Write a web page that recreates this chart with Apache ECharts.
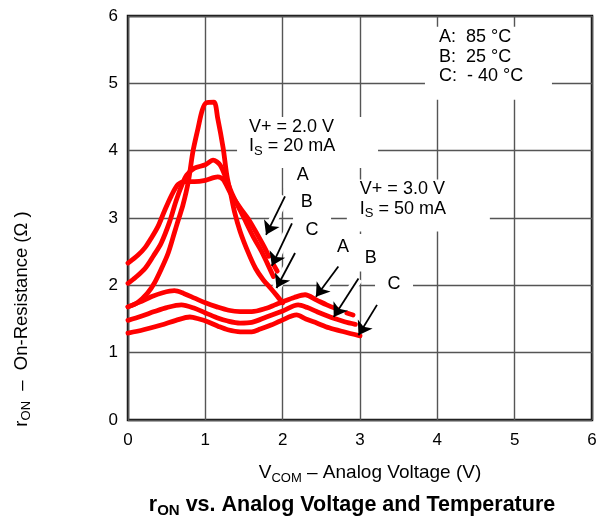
<!DOCTYPE html>
<html><head><meta charset="utf-8">
<script src="https://cdn.jsdelivr.net/npm/echarts@6/dist/echarts.min.js"></script>
<style>html,body{margin:0;padding:0;background:#fff}#c{width:605px;height:525px}</style>
</head><body><div id="c"></div>
<script>
// ---- data ----
const xTicks = [0, 1, 2, 3, 4, 5, 6];
const yTicks = [0, 1, 2, 3, 4, 5, 6];

// V+ = 2.0 V, IS = 20 mA
const v2A = [[0,2.33],[0.13,2.45],[0.22,2.56],[0.30,2.70],[0.39,2.88],[0.47,3.10],[0.56,3.33],[0.65,3.50],[0.75,3.54],[0.86,3.54],[1.0,3.56],[1.16,3.61],[1.23,3.57],[1.32,3.38],[1.45,3.15],[1.57,2.96],[1.68,2.74],[1.78,2.53],[1.82,2.43]];
const v2ADash = [[1.885,2.30],[1.93,2.21]];
const v2B = [[0,2.03],[0.10,2.12],[0.22,2.25],[0.33,2.44],[0.43,2.63],[0.54,2.95],[0.62,3.25],[0.70,3.50],[0.76,3.64],[0.86,3.74],[1.0,3.79],[1.10,3.86],[1.19,3.79],[1.27,3.58],[1.35,3.35],[1.50,3.0],[1.62,2.72],[1.72,2.52],[1.80,2.33],[1.88,2.13]];
const v2C = [[0,1.68],[0.13,1.75],[0.25,1.88],[0.34,2.03],[0.43,2.24],[0.52,2.48],[0.60,2.78],[0.65,2.97],[0.71,3.19],[0.78,3.54],[0.84,3.99],[0.905,4.33],[0.96,4.60],[1.01,4.71],[1.11,4.72],[1.16,4.48],[1.23,4.04],[1.28,3.62],[1.33,3.35],[1.38,3.08],[1.45,2.80],[1.55,2.50],[1.65,2.25],[1.75,2.08],[1.85,1.95],[1.93,1.84],[2.0,1.74]];

// V+ = 3.0 V, IS = 50 mA
const v3A = [[0,1.68],[0.15,1.75],[0.30,1.83],[0.45,1.89],[0.60,1.92],[0.72,1.88],[0.86,1.81],[1.0,1.74],[1.15,1.68],[1.30,1.63],[1.45,1.61],[1.60,1.61],[1.79,1.66],[1.90,1.71],[2.01,1.76],[2.15,1.82],[2.29,1.86],[2.44,1.78],[2.57,1.71],[2.70,1.65]];
const v3ADash = [[2.83,1.59],[2.91,1.56]];
const v3B = [[0,1.48],[0.17,1.54],[0.34,1.61],[0.50,1.67],[0.69,1.71],[0.86,1.66],[1.0,1.59],[1.15,1.52],[1.29,1.47],[1.45,1.44],[1.60,1.45],[1.79,1.53],[2.0,1.62],[2.20,1.71],[2.32,1.67],[2.44,1.61],[2.66,1.51],[2.80,1.46],[2.94,1.42]];
const v3C = [[0,1.29],[0.20,1.34],[0.43,1.41],[0.62,1.48],[0.80,1.53],[0.92,1.50],[1.03,1.46],[1.17,1.39],[1.29,1.34],[1.45,1.31],[1.60,1.31],[1.71,1.35],[1.85,1.41],[1.97,1.47],[2.18,1.56],[2.30,1.50],[2.44,1.44],[2.60,1.37],[2.79,1.31],[3.0,1.25]];

// annotations (data coordinates)
const arrowLines = [
  [[2.03,3.32],[1.785,2.75]], [[2.12,2.92],[1.86,2.29]], [[2.16,2.48],[1.92,1.96]],
  [[2.72,2.28],[2.43,1.83]], [[2.98,2.10],[2.66,1.53]], [[3.22,1.71],[2.98,1.26]]
];
const letterPos = [[2.26,3.64],[2.31,3.24],[2.38,2.82],[2.78,2.57],[3.14,2.40],[3.44,2.02]];
const letterText = ['A','B','C','A','B','C'];
const boxPos = [[1.41,4.50],[2.83,3.57],[3.84,5.84]];
const boxText = [
  '{a|V+ = 2.0 V}\n{a|I}{s|S}{a| = 20 mA}',
  '{a|V+ = 3.0 V}\n{a|I}{s|S}{a| = 50 mA}',
  '{a|A:  85 °C}\n{a|B:  25 °C}\n{a|C:  - 40 °C}'
];

// ---- layout / style ----
const FONT = 'Liberation Sans, Arial, Helvetica, sans-serif';
const RED = '#ff0000';
const boxSize = [[141, 51], [143, 52], [127, 73]];
const boxTextOffset = [[12, 1], [13, 0], [14, 1]];
const boxLineHeight = [19, 19.5, 19.5];

const chart = echarts.init(document.getElementById('c'), null, {renderer: 'canvas'});

function curve(name, data) {
  return {
    name, type: 'line', data, showSymbol: false, smooth: 0.3, z: 3,
    lineStyle: {color: RED, width: 4.8, cap: 'round', join: 'round'},
    silent: true, animation: false
  };
}
function rich(size, lh, bold) {
  const w = bold ? 'bold' : 'normal';
  return {
    a: {fontSize: size, fontWeight: w, fontFamily: FONT, color: '#000', lineHeight: lh},
    s: {fontSize: Math.round(size * 0.7), fontWeight: w, fontFamily: FONT, color: '#000', lineHeight: lh, padding: [Math.round(size * 0.5), 0, 0, 0]}
  };
}

chart.setOption({
  animation: false,
  backgroundColor: '#fff',
  grid: {left: 128, right: 13, top: 16, bottom: 105, show: true, borderColor: '#111', borderWidth: 2.5, backgroundColor: 'transparent'},
  xAxis: {
    type: 'value', min: 0, max: 6, interval: 1,
    axisLine: {show: false}, axisTick: {show: false},
    axisLabel: {color: '#000', fontSize: 17, fontFamily: FONT, margin: 12, formatter: v => xTicks.includes(v) ? String(v) : ''},
    splitLine: {show: true, lineStyle: {color: '#555', width: 1.4}}
  },
  yAxis: {
    type: 'value', min: 0, max: 6, interval: 1,
    axisLine: {show: false}, axisTick: {show: false},
    axisLabel: {color: '#000', fontSize: 17, fontFamily: FONT, margin: 10, formatter: v => yTicks.includes(v) ? String(v) : ''},
    splitLine: {show: true, lineStyle: {color: '#555', width: 1.4}}
  },
  series: [
    {
      type: 'lines', coordinateSystem: 'cartesian2d', z: 2, silent: true,
      data: arrowLines.map(c => ({coords: c})),
      lineStyle: {color: '#fff', width: 9, opacity: 1}, symbol: 'none'
    },
    curve('V2 A', v2A), curve('V2 A tail', v2ADash),
    curve('V2 B', v2B), curve('V2 C', v2C),
    curve('V3 A', v3A), curve('V3 A tail', v3ADash),
    curve('V3 B', v3B), curve('V3 C', v3C),
    {
      type: 'lines', coordinateSystem: 'cartesian2d', z: 4, silent: true,
      data: arrowLines.map(c => ({coords: c})),
      lineStyle: {color: '#000', width: 1.8, opacity: 1},
      symbol: ['none', 'arrow'], symbolSize: [8, 13]
    }
  ]
});

const px = p => chart.convertToPixel({gridIndex: 0}, p);
const g = [];
boxPos.forEach((p, i) => {
  const [x, y] = px(p);
  g.push({type: 'rect', z: 2, silent: true, shape: {x, y, width: boxSize[i][0], height: boxSize[i][1]}, style: {fill: '#fff'}});
  g.push({type: 'text', z: 10, silent: true, x: x + boxTextOffset[i][0], y: y + boxTextOffset[i][1],
    style: {text: boxText[i], align: 'left', verticalAlign: 'top', rich: rich(18, boxLineHeight[i])}});
});
letterPos.forEach((p, i) => {
  const [x, y] = px(p);
  g.push({type: 'rect', z: 2, silent: true, shape: {x: x - 19, y: y - 13, width: 38, height: 26}, style: {fill: '#fff'}});
  g.push({type: 'text', z: 10, silent: true, x, y,
    style: {text: letterText[i], align: 'center', verticalAlign: 'middle', fontSize: 18, fontFamily: FONT, fill: '#000'}});
});
g.push({
  type: 'text', silent: true, z: 10, x: 22, y: 319, rotation: Math.PI / 2,
  style: {text: '{a|r}{s|ON}{a|  –  On-Resistance (Ω )}', align: 'center', verticalAlign: 'middle', rich: rich(18.5)}
});
g.push({
  type: 'text', silent: true, z: 10, x: 370, y: 473,
  style: {text: '{a|V}{s|COM}{a| – Analog Voltage (V)}', align: 'center', verticalAlign: 'middle', rich: rich(19)}
});
g.push({
  type: 'text', silent: true, z: 10, x: 352, y: 505,
  style: {text: '{a|r}{s|ON}{a| vs. Analog Voltage and Temperature}', align: 'center', verticalAlign: 'middle', rich: rich(21.5, undefined, true)}
});
chart.setOption({graphic: g});
</script>
</body></html>
